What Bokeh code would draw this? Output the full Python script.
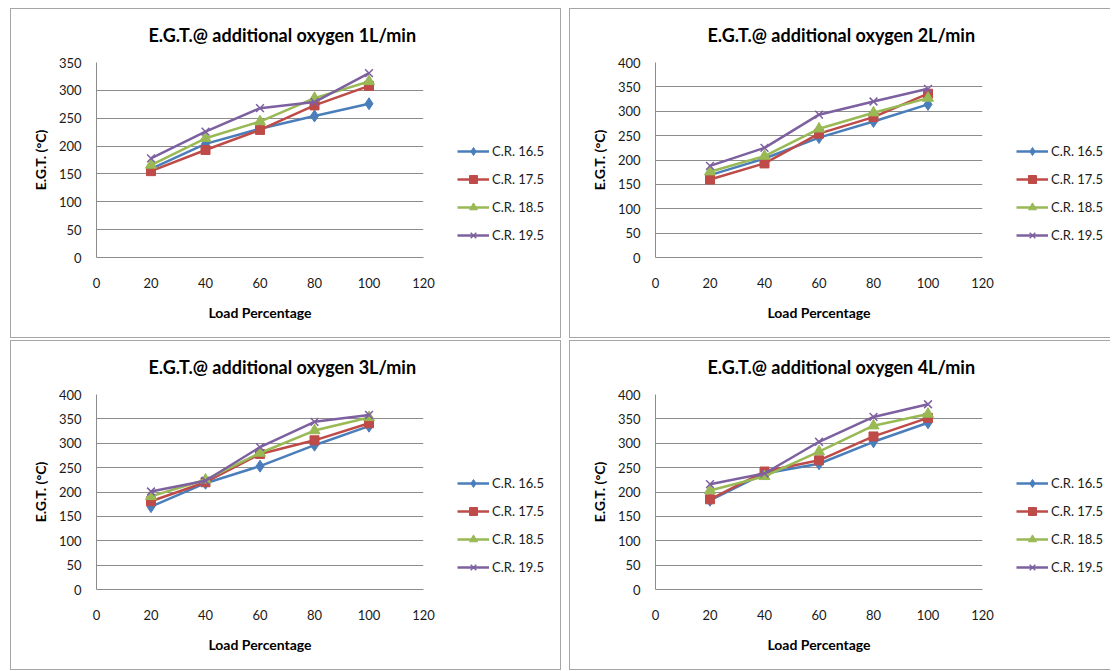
from bokeh.plotting import figure
from bokeh.models import Legend, LegendItem, Title, Range1d, FixedTicker
from bokeh.layouts import column, row
from bokeh.embed import file_html
from bokeh.resources import INLINE

# ---------------- data ----------------
load_pct = [20, 40, 60, 80, 100]
series_names = ["C.R. 16.5", "C.R. 17.5", "C.R. 18.5", "C.R. 19.5"]
titles = ["E.G.T.@ additional oxygen 1L/min", "E.G.T.@ additional oxygen 2L/min",
          "E.G.T.@ additional oxygen 3L/min", "E.G.T.@ additional oxygen 4L/min"]
y_max = [350, 400, 400, 400]

egt_1L_cr165 = [159, 204, 231, 254, 276]
egt_1L_cr175 = [155, 193, 229, 273, 308]
egt_1L_cr185 = [166, 214, 244, 286, 316]
egt_1L_cr195 = [178, 226, 268, 279, 331]

egt_2L_cr165 = [169, 203, 246, 279, 314]
egt_2L_cr175 = [160, 193, 254, 288, 336]
egt_2L_cr185 = [176, 208, 264, 297, 327]
egt_2L_cr195 = [188, 225, 293, 320, 346]

egt_3L_cr165 = [170, 218, 253, 296, 335]
egt_3L_cr175 = [181, 220, 278, 306, 341]
egt_3L_cr185 = [191, 225, 280, 326, 353]
egt_3L_cr195 = [201, 223, 292, 344, 358]

egt_4L_cr165 = [183, 238, 258, 303, 342]
egt_4L_cr175 = [185, 242, 265, 314, 352]
egt_4L_cr185 = [203, 232, 283, 336, 360]
egt_4L_cr195 = [216, 238, 303, 354, 380]

panels_data = [
    [egt_1L_cr165, egt_1L_cr175, egt_1L_cr185, egt_1L_cr195],
    [egt_2L_cr165, egt_2L_cr175, egt_2L_cr185, egt_2L_cr195],
    [egt_3L_cr165, egt_3L_cr175, egt_3L_cr185, egt_3L_cr195],
    [egt_4L_cr165, egt_4L_cr175, egt_4L_cr185, egt_4L_cr195],
]
x_ticks = [0, 20, 40, 60, 80, 100, 120]

# ---------------- style ----------------
colors = ["#4a7ebb", "#be4b48", "#98b954", "#7d60a0"]
markers = ["diamond", "square", "triangle", "x"]
msizes = [12, 9, 11, 11]
FONT = "Lato"
GRID = "#8c8c8c"
BORDER = "1px solid #a6a6a6"
PANEL_H = 330
TOP = 52
FRAME_H = 196
BOTTOM = PANEL_H - TOP - FRAME_H
LEFT = 85
FRAME_W = 327
CHART_W = 432


def draw_series(fig, series):
    rs = []
    for vals, c, m, s in zip(series, colors, markers, msizes):
        ln = fig.line(load_pct, vals, line_color=c, line_width=2.5)
        if m == "x":
            sc = fig.scatter(load_pct, vals, marker=m, size=s, line_color=c, line_width=1.5)
        else:
            sc = fig.scatter(load_pct, vals, marker=m, size=s, fill_color=c, line_color=c)
        rs.append((ln, sc))
    return rs


def make_chart(title, ymax, series):
    p = figure(width=CHART_W, height=PANEL_H, output_backend="svg", toolbar_location=None,
               x_range=Range1d(0, 120), y_range=Range1d(0, ymax),
               min_border_left=LEFT, min_border_top=TOP, min_border_bottom=BOTTOM,
               min_border_right=CHART_W - LEFT - FRAME_W)
    p.outline_line_color = None
    p.styles = {"border-top": BORDER, "border-bottom": BORDER, "border-left": BORDER}
    p.xgrid.grid_line_color = None
    p.ygrid.grid_line_color = GRID
    p.xaxis.ticker = FixedTicker(ticks=x_ticks)
    p.yaxis.ticker = FixedTicker(ticks=list(range(0, ymax + 1, 50)))
    for ax in (p.xaxis[0], p.yaxis[0]):
        ax.axis_line_color = GRID
        ax.major_tick_line_color = None
        ax.minor_tick_line_color = None
        ax.major_label_text_font = FONT
        ax.major_label_text_font_size = "13px"
        ax.major_label_text_color = "#1a1a1a"
        ax.axis_label_text_font = FONT
        ax.axis_label_text_font_size = "14px"
        ax.axis_label_text_font_style = "bold"
        ax.axis_label_text_color = "black"
    p.xaxis.major_label_standoff = 14
    p.yaxis.major_label_standoff = 9
    p.xaxis.axis_label = "Load Percentage"
    p.xaxis.axis_label_standoff = 13
    p.yaxis.axis_label = "E.G.T. (°C)"
    p.yaxis.axis_label_standoff = 7
    draw_series(p, series)
    p.add_layout(Title(text=title, align="left", offset=52, standoff=29,
                       vertical_align="top",
                       text_font=FONT, text_font_size="18px", text_font_style="bold",
                       text_color="black"), "above")
    return p


def make_legend_fig(series, width, right_border=True):
    # legend holder: its frame is aligned with the chart's frame by the row;
    # data drawn outside its (empty) view, only the legend shows
    q = figure(width=width, height=PANEL_H, output_backend="svg", toolbar_location=None,
               x_range=Range1d(1000, 1001), y_range=Range1d(1000, 1001),
               x_axis_location=None, y_axis_location=None,
               min_border_left=0, min_border_right=0, min_border_top=TOP,
               min_border_bottom=BOTTOM)
    q.outline_line_color = None
    q.grid.visible = False
    st = {"border-top": BORDER, "border-bottom": BORDER}
    if right_border:
        st["border-right"] = BORDER
    q.styles = st
    rs = draw_series(q, series)
    items = [LegendItem(label=n, renderers=[ln, sc]) for n, (ln, sc) in zip(series_names, rs)]
    legend = Legend(items=items, location=(15, 12), orientation="vertical",
                    padding=0, margin=0, border_line_alpha=0, background_fill_alpha=0,
                    glyph_width=32, glyph_height=20, label_height=20,
                    spacing=8, label_standoff=3, label_text_font=FONT,
                    label_text_font_size="13px", label_text_color="#1a1a1a")
    q.add_layout(legend)
    return q


panels = []
for i in range(4):
    full = (i % 2 == 0)
    chart = make_chart(titles[i], y_max[i], panels_data[i])
    leg = make_legend_fig(panels_data[i], 119 if full else 109, right_border=full)
    panels.append(row(chart, leg, spacing=0))

layout = column(row(panels[0], panels[1], spacing=8),
                row(panels[2], panels[3], spacing=8), spacing=2)
layout.styles = {"margin-left": "10px", "margin-top": "8px"}

open("out.html", "w").write(file_html(layout, INLINE))
